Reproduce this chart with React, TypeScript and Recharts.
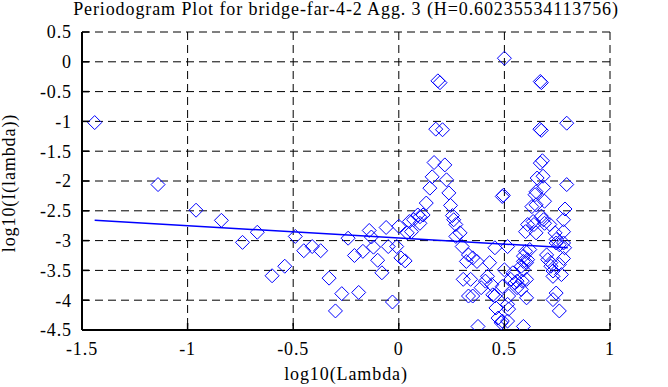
import { ScatterChart, Scatter, XAxis, YAxis, CartesianGrid } from "recharts";

const xTicks = [-1.5, -1, -0.5, 0, 0.5, 1];
const yTicks = [0.5, 0, -0.5, -1, -1.5, -2, -2.5, -3, -3.5, -4, -4.5];

// log10(lambda)
const logLambda = [
  -1.44, -1.14, -0.96, -0.84, -0.74, -0.67, -0.6, -0.54, -0.49, -0.45,
  -0.41, -0.37, -0.33, -0.3, -0.27, -0.24, -0.21, -0.19, -0.17, -0.14,
  -0.13, -0.12, -0.1, -0.08, -0.06, -0.05, -0.03, -0.01, 0.0, 0.01,
  0.03, 0.04, 0.05, 0.06, 0.07, 0.09, 0.1, 0.1, 0.115, 0.13,
  0.147, 0.158, 0.167, 0.175, 0.185, 0.195, 0.207, 0.218, 0.226, 0.237,
  0.245, 0.254, 0.26, 0.27, 0.27, 0.29, 0.3, 0.305, 0.32, 0.33,
  0.33, 0.34, 0.35, 0.35, 0.37, 0.375, 0.39, 0.41, 0.42, 0.43,
  0.44, 0.445, 0.455, 0.455, 0.46, 0.47, 0.485, 0.49, 0.495, 0.49,
  0.49, 0.5, 0.5, 0.515, 0.515, 0.515, 0.52, 0.52, 0.53, 0.54,
  0.55, 0.56, 0.56, 0.58, 0.58, 0.585, 0.59, 0.59, 0.59, 0.59,
  0.6, 0.6, 0.605, 0.605, 0.605, 0.61, 0.61, 0.62, 0.63, 0.636,
  0.64, 0.645, 0.65, 0.65, 0.65, 0.655, 0.668, 0.675, 0.67, 0.675,
  0.67, 0.68, 0.675, 0.683, 0.685, 0.686, 0.69, 0.69, 0.7, 0.705,
  0.715, 0.72, 0.72, 0.73, 0.73, 0.73, 0.74, 0.745, 0.745, 0.745,
  0.76, 0.76, 0.76, 0.77, 0.78, 0.78, 0.78, 0.78, 0.785, 0.787,
  0.795, 0.795,
];

// log10(I(lambda))
const logPeriodogram = [
  -1.02, -2.06, -2.49, -2.66, -3.03, -2.86, -3.59, -3.43, -2.93, -3.17,
  -3.1, -3.17, -3.63, -4.18, -3.89, -2.96, -3.25, -3.87, -3.18, -2.83,
  -2.94, -3.11, -3.33, -3.54, -2.78, -3.1, -4.03, -3.1, -2.76, -3.29,
  -3.34, -2.87, -2.68, -2.85, -2.65, -2.57, -2.71, -2.6, -2.57, -2.37,
  -2.12, -1.93, -1.69, -1.13, -0.32, -0.35, -1.14, -1.73, -1.98, -2.2,
  -2.41, -2.58, -2.65, -2.73, -2.93, -2.87, -3.1, -3.65, -3.35, -3.24,
  -3.93, -3.65, -3.29, -3.93, -3.35, -4.44, -3.79, -3.68, -3.6, -3.37,
  -3.74, -3.91, -3.12, -3.93, -4.13, -4.3, -4.38, -2.26, -2.24, -3.77,
  -4.35, 0.06, -3.49, -3.1, -4.35, -4.07, -3.93, -4.15, -3.65, -3.54,
  -3.71, -3.79, -3.68, -3.43, -3.82, -3.68, -4.44, -3.49, -3.26, -3.35,
  -2.85, -3.18, -3.65, -3.37, -3.96, -2.73, -3.32, -3.15, -2.43, -2.68,
  -2.73, -2.23, -2.87, -2.18, -2.4, -1.95, -1.13, -1.15, -0.33, -0.35,
  -1.7, -1.66, -2.59, -1.92, -2.65, -2.11, -2.34, -2.71, -3.24, -3.32,
  -2.73, -3.43, -3.37, -3.6, -3.51, -3.99, -2.87, -2.98, -3.04, -3.88,
  -3.07, -4.18, -3.4, -3.57, -3.3, -2.65, -2.85, -3.04, -3.12, -2.47,
  -1.03, -2.06,
];

// least-squares fit line ends
const fitX = [-1.44, 0.8];
const fitY = [-2.66, -3.12];

const points = logLambda.map((x, i) => ({ x, y: logPeriodogram[i] }));
const fitLine = fitX.map((x, i) => ({ x, y: fitY[i] }));

const FONT = '"Liberation Serif", "Times New Roman", serif';
const BLUE = "#0000ff";
const textStyle = { fontFamily: FONT, fontSize: 18, letterSpacing: 0.9 };

const Diamond = (props: any) => {
  const { cx, cy } = props;
  if (cx == null || cy == null) return null;
  const r = 7;
  return (
    <polygon
      points={`${cx},${cy - r} ${cx + r},${cy} ${cx},${cy + r} ${cx - r},${cy}`}
      fill="none"
      stroke={BLUE}
      strokeWidth={1}
    />
  );
};

const LeftTick = ({ x, y, payload }: any) => (
  <g>
    <text x={x} y={y} dy="0.35em" textAnchor="end" style={textStyle} fill="#000">
      {payload.value}
    </text>
    <line x1={x + 10} y1={y} x2={x + 17} y2={y} stroke="#000" strokeWidth={1.5} />
  </g>
);

const BottomTick = ({ x, y, payload }: any) => (
  <g>
    <text x={x} y={y + 25} textAnchor="middle" style={textStyle} fill="#000">
      {payload.value}
    </text>
    <line x1={x} y1={y} x2={x} y2={y - 7} stroke="#000" strokeWidth={1.5} />
  </g>
);

const TopTick = ({ x, y }: any) => (
  <line x1={x} y1={y} x2={x} y2={y + 7} stroke="#000" strokeWidth={1.5} />
);

const RightTick = ({ x, y }: any) => (
  <line x1={x} y1={y} x2={x - 7} y2={y} stroke="#000" strokeWidth={1.5} />
);

const App = () => (
  <div style={{ position: "relative", width: 668, height: 387, background: "#fff", fontFamily: FONT }}>
    <style>{`body{margin:0}`}</style>
    <div
      style={{
        ...textStyle, position: "absolute", left: 0, top: -1, width: 692, textAlign: "center",
        lineHeight: "20px", color: "#000", whiteSpace: "nowrap",
      }}
    >
      Periodogram Plot for bridge-far-4-2 Agg. 3 (H=0.60235534113756)
    </div>
    <div
      style={{
        ...textStyle, position: "absolute", left: 9, top: 183, color: "#000", whiteSpace: "nowrap",
        transform: "translate(-50%, -50%) rotate(-90deg)",
      }}
    >
      log10(I(lambda))
    </div>
    <div
      style={{
        ...textStyle, position: "absolute", left: 0, top: 364, width: 692, textAlign: "center",
        lineHeight: "20px", color: "#000", whiteSpace: "nowrap",
      }}
    >
      log10(Lambda)
    </div>
    <ScatterChart width={668} height={387} margin={{ top: 32, right: 58, bottom: 0, left: 0 }}>
      <CartesianGrid stroke="#000" strokeDasharray="8 5" strokeWidth={1} />
      <XAxis
        dataKey="x" type="number" domain={[-1.5, 1]} ticks={xTicks} height={57}
        axisLine={{ stroke: "#000", strokeWidth: 2 }} tickLine={false}
        tickSize={0} tickMargin={0} tick={<BottomTick />} allowDataOverflow
      />
      <XAxis
        xAxisId="top" orientation="top" type="number" domain={[-1.5, 1]} ticks={xTicks} height={0}
        axisLine={{ stroke: "#000", strokeWidth: 2 }} tickLine={false}
        tickSize={0} tickMargin={0} tick={<TopTick />} allowDataOverflow
      />
      <YAxis
        dataKey="y" type="number" domain={[-4.5, 0.5]} ticks={yTicks} width={82}
        axisLine={{ stroke: "#000", strokeWidth: 2 }} tickLine={false}
        tickSize={0} tickMargin={10} tick={<LeftTick />} allowDataOverflow
      />
      <YAxis
        yAxisId="right" orientation="right" type="number" domain={[-4.5, 0.5]} ticks={yTicks} width={0}
        axisLine={{ stroke: "#000", strokeWidth: 2 }} tickLine={false}
        tickSize={0} tickMargin={0} tick={<RightTick />} allowDataOverflow
      />
      <Scatter data={points} shape={<Diamond />} isAnimationActive={false} />
      <Scatter
        data={fitLine}
        line={{ stroke: BLUE, strokeWidth: 1.5 }}
        shape={() => <g />}
        isAnimationActive={false}
      />
    </ScatterChart>
  </div>
);

export default App;
